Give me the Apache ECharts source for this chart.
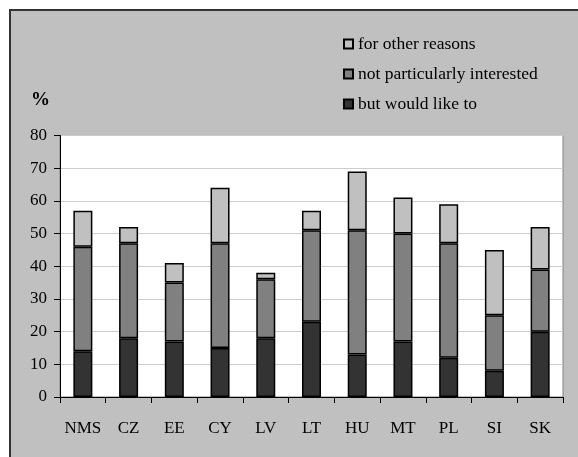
<!DOCTYPE html>
<html><head><meta charset="utf-8">
<script src="https://cdn.jsdelivr.net/npm/echarts@6/dist/echarts.min.js"></script>
<style>html,body{margin:0;padding:0;background:#fff}#c{width:578px;height:457px}</style>
</head><body><div id="c"></div>
<script>
var categories = ['NMS','CZ','EE','CY','LV','LT','HU','MT','PL','SI','SK'];
var butWouldLike = [14,18,17,15,18,23,13,17,12,8,20];
var notInterested = [32,29,18,32,18,28,38,33,35,17,19];
var otherReasons = [11,5,6,17,2,6,18,11,12,20,13];
var seriesNames = ['but would like to','not particularly interested','for other reasons'];
var yTicks = {min:0, max:80, interval:10};

var font = 'Liberation Serif';
var chart = echarts.init(document.getElementById('c'), null, {renderer:'canvas'});
function bar(name, data, color){
  return {name:name, type:'bar', stack:'s', data:data, barWidth:19,
    itemStyle:{color:color, borderColor:'#000', borderWidth:1.5}, emphasis:{disabled:true}};
}
chart.setOption({
  animation:false,
  backgroundColor:'#fff',
  graphic:[
    {type:'rect', z:-10, shape:{x:10,y:10,width:600,height:500}, style:{fill:'#C0C0C0', stroke:'#333', lineWidth:2}},
    {type:'text', left:31, top:91, style:{text:'%', font:'bold 19px "Liberation Serif"', fill:'#000'}}
  ],
  legend:{orient:'vertical', left:343, top:35, padding:0, itemWidth:9, itemHeight:9, itemGap:12,
    data:['for other reasons','not particularly interested','but would like to'],
    textStyle:{fontFamily:font, fontSize:17.5, color:'#000', lineHeight:18},
    icon:'rect'},
  grid:{left:60, top:135.5, right:15, bottom:60, show:true, backgroundColor:'#fff', borderColor:'#808080', borderWidth:1},
  xAxis:{type:'category', data:categories,
    axisLine:{lineStyle:{color:'#000', width:1}},
    axisTick:{show:true, interval:0, length:6, lineStyle:{color:'#000'}},
    axisLabel:{interval:0, fontFamily:font, fontSize:17, color:'#000', margin:23}},
  yAxis:{type:'value', min:yTicks.min, max:yTicks.max, interval:yTicks.interval,
    axisLine:{show:true, lineStyle:{color:'#000', width:1}},
    axisTick:{show:true, length:6, lineStyle:{color:'#000'}},
    axisLabel:{fontFamily:font, fontSize:17, color:'#000', margin:13},
    splitLine:{lineStyle:{color:'#CCCCCC', width:1}}},
  series:[bar(seriesNames[0], butWouldLike, '#333333'), bar(seriesNames[1], notInterested, '#808080'), bar(seriesNames[2], otherReasons, '#C0C0C0')]
});
</script></body></html>
